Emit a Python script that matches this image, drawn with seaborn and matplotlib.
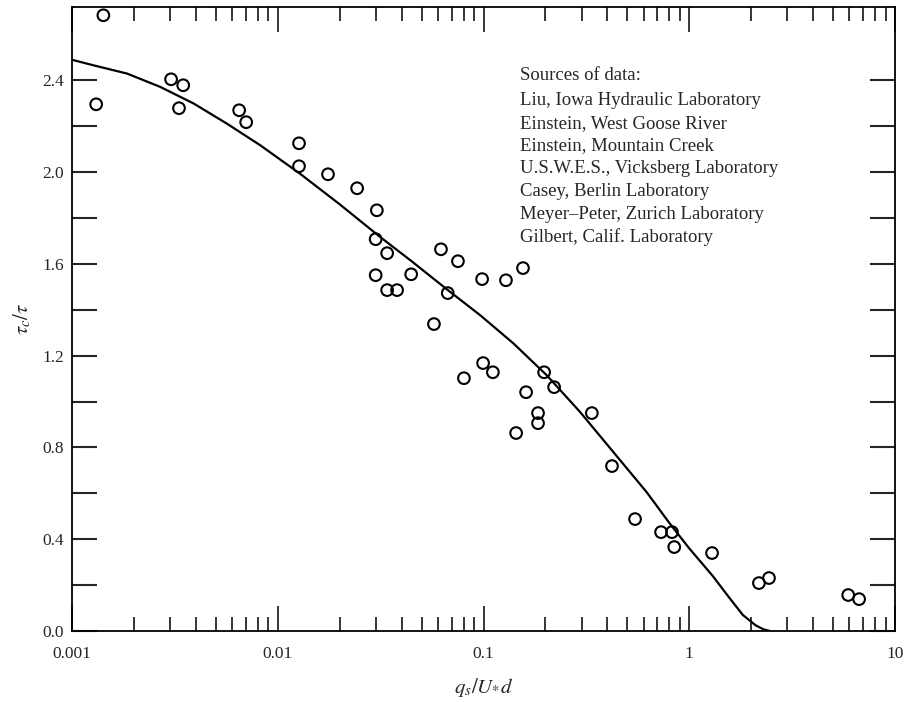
import matplotlib
matplotlib.use('Agg')
import matplotlib.pyplot as plt
import matplotlib.ticker as mticker
import numpy as np
import pandas as pd
import seaborn as sns

# measured points (q_s/U*d, tau_c/tau)
q_obs = [0.00142, 0.00131, 0.00303, 0.00347, 0.00331, 0.00649, 0.00702,
         0.01268, 0.01268, 0.01754, 0.0243, 0.0303, 0.0299, 0.034, 0.0299,
         0.034, 0.038, 0.0445, 0.0621, 0.0751, 0.067, 0.0574, 0.0984,
         0.1285, 0.1555, 0.0803, 0.0995, 0.111, 0.197, 0.2203, 0.161,
         0.184, 0.184, 0.144, 0.336, 0.421, 0.545, 0.729, 0.824, 0.845,
         1.29, 2.18, 2.44, 5.92, 6.69]
tau_obs = [2.684, 2.296, 2.405, 2.379, 2.279, 2.27, 2.218,
           2.126, 2.026, 1.991, 1.93, 1.834, 1.708, 1.647, 1.551,
           1.486, 1.486, 1.555, 1.664, 1.612, 1.473, 1.338, 1.534,
           1.529, 1.582, 1.102, 1.168, 1.128, 1.128, 1.063, 1.041,
           0.95, 0.906, 0.863, 0.95, 0.719, 0.488, 0.431, 0.431, 0.366,
           0.34, 0.209, 0.231, 0.157, 0.139]

# fitted curve
q_fit = [0.001, 0.00127, 0.00185, 0.00268, 0.00389, 0.00565, 0.0082,
         0.0128, 0.02, 0.0314, 0.045, 0.0662, 0.0962, 0.1396, 0.2028,
         0.2944, 0.4276, 0.6209, 0.803, 1.0, 1.3, 1.55, 1.82, 2.1, 2.3, 2.47]
tau_fit = [2.49, 2.466, 2.43, 2.372, 2.30, 2.212, 2.118,
           1.994, 1.86, 1.718, 1.61, 1.49, 1.377, 1.254, 1.115,
           0.955, 0.78, 0.605, 0.469, 0.36, 0.24, 0.15, 0.07, 0.025, 0.007, 0.0]

sources = ["Liu, Iowa Hydraulic Laboratory",
           "Einstein, West Goose River",
           "Einstein, Mountain Creek",
           "U.S.W.E.S., Vicksberg Laboratory",
           "Casey, Berlin Laboratory",
           "Meyer\u2013Peter, Zurich Laboratory",
           "Gilbert, Calif. Laboratory"]

obs = pd.DataFrame({'q': q_obs, 'tau': tau_obs})
fit = pd.DataFrame({'q': q_fit, 'tau': tau_fit})

sns.set_style('ticks')
plt.rcParams['font.family'] = ['Liberation Serif', 'DejaVu Serif']
plt.rcParams['mathtext.fontset'] = 'stix'

fig = plt.figure(figsize=(9.05, 7.02), dpi=100)
ax = fig.add_axes([0.0796, 0.1011, 0.9094, 0.8889])

sns.lineplot(data=fit, x='q', y='tau', color='black', linewidth=1.6,
             estimator=None, sort=False, ax=ax)
sns.scatterplot(data=obs, x='q', y='tau', marker='o', s=70,
                facecolor='none', edgecolor='black', linewidth=1.5,
                ax=ax, zorder=3)

ax.set_xscale('log')
ax.set_xlim(0.001, 10)
ax.set_ylim(0, 2.72)

ax.xaxis.set_major_locator(mticker.LogLocator(base=10, numticks=10))
ax.xaxis.set_minor_locator(mticker.LogLocator(base=10, subs=np.arange(2, 10), numticks=20))
ax.xaxis.set_major_formatter(mticker.FuncFormatter(lambda v, p: f'{v:g}'))
ax.xaxis.set_minor_formatter(mticker.NullFormatter())

ax.yaxis.set_major_locator(mticker.FixedLocator([0, 0.4, 0.8, 1.2, 1.6, 2.0, 2.4]))
ax.yaxis.set_minor_locator(mticker.FixedLocator([0.2, 0.6, 1.0, 1.4, 1.8, 2.2]))
ax.yaxis.set_major_formatter(mticker.FormatStrFormatter('%.1f'))

ax.tick_params(axis='x', which='major', direction='in', length=18, width=1.3,
               top=True, bottom=True, labelsize=12.5, pad=11)
ax.tick_params(axis='x', which='minor', direction='in', length=10, width=1.3,
               top=True, bottom=True)
ax.tick_params(axis='y', which='both', direction='in', length=18, width=1.5,
               left=True, right=True, labelsize=12.5, pad=6)

for s in ax.spines.values():
    s.set_linewidth(1.3)
    s.set_color('black')

ax.set_xlabel(r'$q_s/U_{*}d$', fontsize=15, labelpad=10)
ax.set_ylabel(r'$\tau_c/\tau$', fontsize=15, labelpad=6)

ax.text(0.5444, 0.883, 'Sources of data:', transform=ax.transAxes,
        fontsize=13.5, va='baseline', ha='left')
for i, name in enumerate(sources):
    ax.text(0.5444, 0.843 - i * 0.0365, name, transform=ax.transAxes,
            fontsize=13.5, va='baseline', ha='left')

fig.savefig('out.png', dpi=100)
plt.close(fig)
